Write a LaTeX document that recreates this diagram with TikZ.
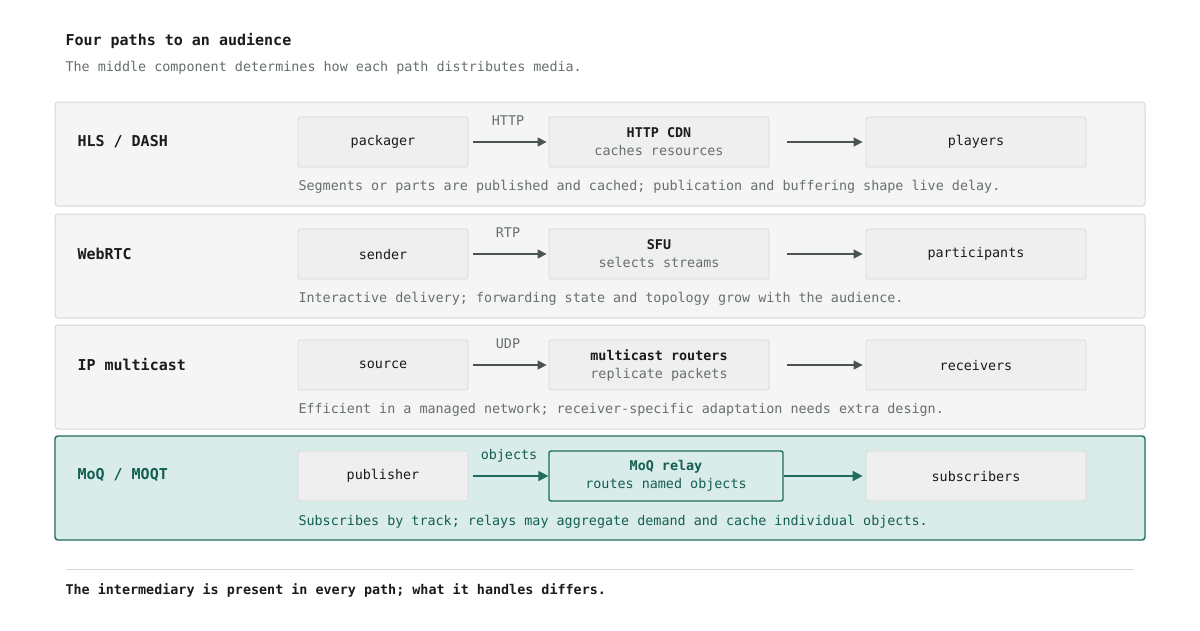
\documentclass[tikz,border=0pt]{standalone}
\usepackage{fontspec}
\setmainfont{DejaVu Sans Mono}
\usetikzlibrary{arrows.meta}
\definecolor{rowbg}{HTML}{F4F5F4}
\definecolor{rowbd}{HTML}{D3D7D4}
\definecolor{nodebg}{HTML}{EEEFEE}
\definecolor{nodebd}{HTML}{D6D9D7}
\definecolor{ink}{HTML}{1A1C1B}
\definecolor{grey}{HTML}{66706C}
\definecolor{arr}{HTML}{4A5350}
\definecolor{mbg}{HTML}{DAECEA}
\definecolor{mbd}{HTML}{1F6B5E}
\definecolor{mtx}{HTML}{135E52}
\tikzset{
  row/.style={draw=rowbd,fill=rowbg,rounded corners=3pt,line width=1pt},
  box/.style={draw=nodebd,fill=nodebg,rounded corners=2pt,line width=0.8pt,minimum width=170pt,minimum height=50pt,font=\fontsize{13.4}{15}\selectfont,text=ink,align=center,inner sep=0pt},
  mid/.style={box,minimum width=220pt},
  lab/.style={anchor=west,font=\bfseries\fontsize{15}{17}\selectfont,text=ink},
  capt/.style={anchor=west,font=\fontsize{13.4}{15}\selectfont,text=grey},
  al/.style={font=\fontsize{13.4}{15}\selectfont,text=grey},
  link/.style={-{Triangle[length=9pt,width=9pt]},line width=1.4pt,draw=arr},
}
\newcommand{\sub}[1]{{\color{grey}#1}}
\begin{document}
\begin{tikzpicture}[x=1pt,y=-1pt]
\path[use as bounding box,fill=white] (0,0) rectangle (1200,630);
\node[anchor=west,font=\bfseries\fontsize{15}{17}\selectfont,text=ink] (title) at (62,41) {Four paths to an audience};
\node[anchor=west,font=\fontsize{13.4}{15}\selectfont,text=grey] (subt) at (62,68) {The middle component determines how each path distributes media.};
\foreach \y/\lbl/\a/\c/\bn/\bs/\al/\cp [count=\i] in {
 102/{HLS / DASH}/packager/players/HTTP CDN/caches resources/HTTP/{Segments or parts are published and cached; publication and buffering shape live delay.},
 214/WebRTC/sender/participants/SFU/selects streams/RTP/{Interactive delivery; forwarding state and topology grow with the audience.},
 325/IP multicast/source/receivers/multicast routers/replicate packets/UDP/{Efficient in a managed network; receiver-specific adaptation needs extra design.}}{
  \draw[row] (55,\y) rectangle (1145,\y+104);
  \node[lab] (L\i) at (74,\y+40) {\lbl};
  \node[box] (A\i) at (383,\y+40) {\a};
  \node[mid] (B\i) at (659,\y+40) {\textbf{\bn}\\[3pt]\sub{\bs}};
  \node[box,minimum width=220pt] (C\i) at (976,\y+40) {\c};
  \draw[link] ([xshift=5pt]A\i.east) -- ([xshift=-2pt]B\i.west);
  \draw[link] ([xshift=18pt]B\i.east) -- ([xshift=-3pt]C\i.west);
  \node[al] (T\i) at (508,\y+19) {\al};
  \node[capt] (P\i) at (295,\y+85) {\cp};
}
\draw[draw=mbd,fill=mbg,rounded corners=3pt,line width=1.4pt] (55,436) rectangle (1145,540);
\node[lab,text=mtx] (L4) at (74,475) {MoQ / MOQT};
\node[box] (A4) at (383,476) {publisher};
\node[mid,draw=mbd,line width=1.4pt,fill=mbg,text=mtx,minimum width=234pt] (B4) at (666,476) {\textbf{MoQ relay}\\[3pt]routes named objects};
\node[box,minimum width=220pt] (C4) at (976,476) {subscribers};
\draw[link,draw=mbd,-{Triangle[length=10pt,width=10pt]},line width=1.8pt] ([xshift=5pt]A4.east) -- (B4.west);
\draw[link,draw=mbd,-{Triangle[length=10pt,width=10pt]},line width=1.8pt] (B4.east) -- ([xshift=-3pt]C4.west);
\node[al,text=mtx] (T4) at (509,456) {objects};
\node[capt,text=mtx] (P4) at (295,522) {Subscribes by track; relays may aggregate demand and cache individual objects.};
\draw[draw=rowbd,line width=1pt] (66,569) coordinate (f1) -- (1134,569) coordinate (f2);
\node[anchor=west,font=\bfseries\fontsize{13.4}{15}\selectfont,text=ink] (foot) at (62,590) {The intermediary is present in every path; what it handles differs.};
\end{tikzpicture}
\end{document}
